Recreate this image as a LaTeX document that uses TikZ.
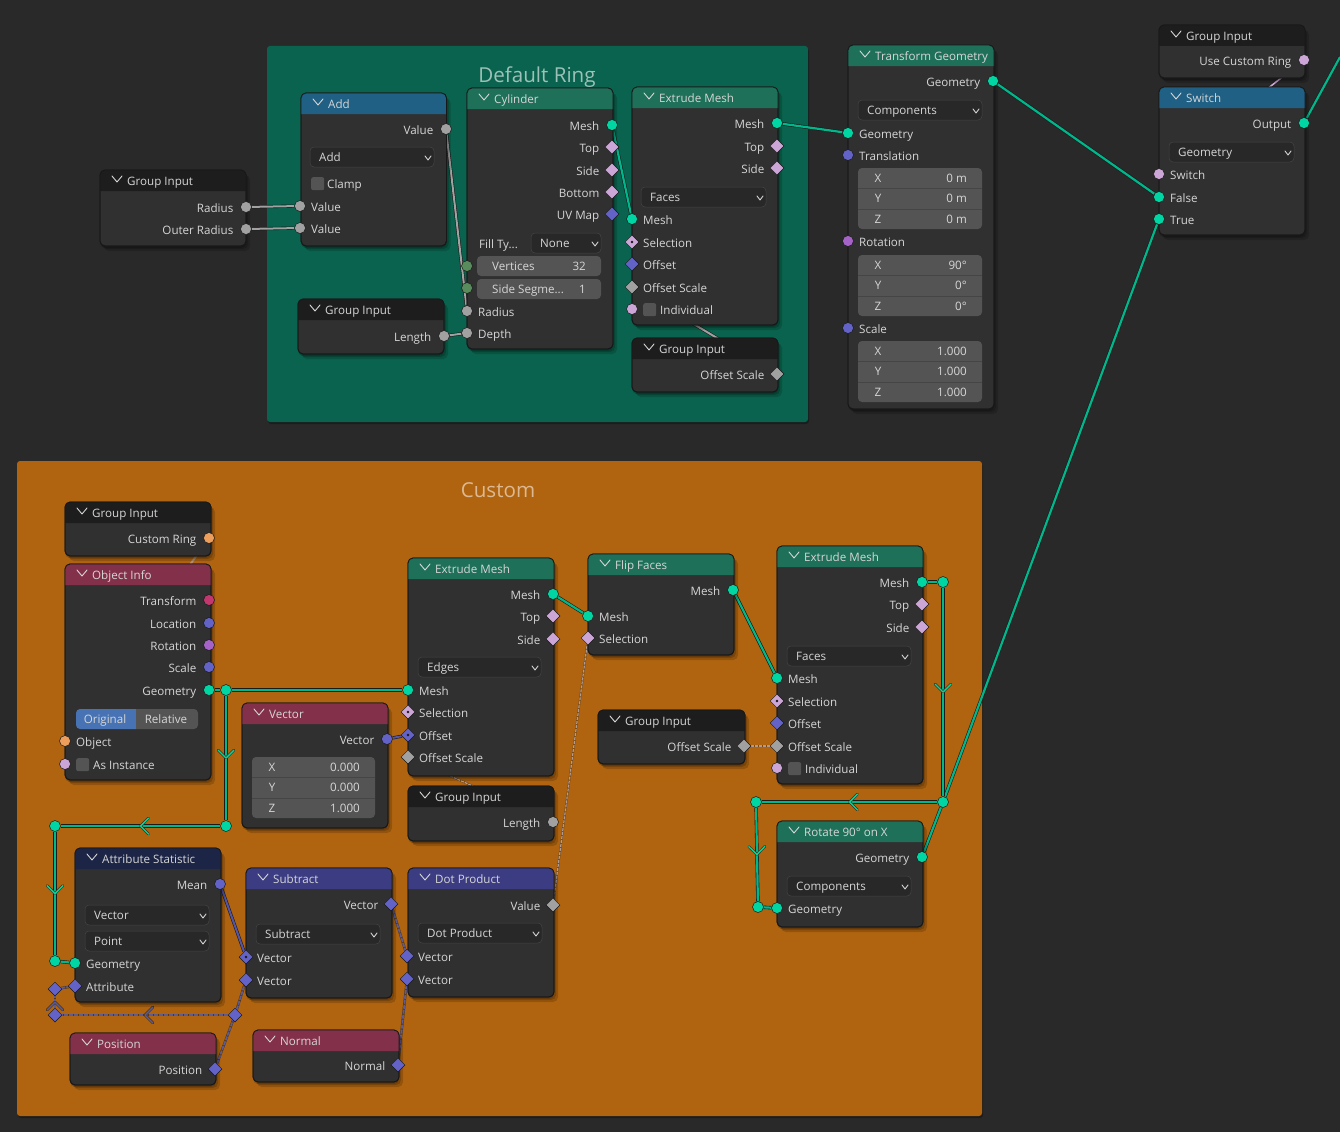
\documentclass[tikz,border=0pt]{standalone}
\usepackage{fontspec}
\setmainfont{Open Sans}
\usetikzlibrary{shapes.geometric,shadows,decorations.markings}
\pgfdeclarelayer{back}
\pgfdeclarelayer{links}
\pgfsetlayers{back,links,main}
\definecolor{bgcol}{HTML}{292929}
\definecolor{bodycol}{HTML}{303030}
\definecolor{edgecol}{HTML}{181818}
\definecolor{ringcol}{HTML}{0A634E}
\definecolor{customcol}{HTML}{B0640F}
\definecolor{headblack}{HTML}{1D1D1D}
\definecolor{headblue}{HTML}{1F6084}
\definecolor{headgreen}{HTML}{1E7059}
\definecolor{headred}{HTML}{83314A}
\definecolor{headpurple}{HTML}{3C3C83}
\definecolor{headnavy}{HTML}{1D2546}
\definecolor{geocol}{HTML}{00D6A3}
\definecolor{valcol}{HTML}{A1A1A1}
\definecolor{intcol}{HTML}{598C5C}
\definecolor{boolcol}{HTML}{CCA6D6}
\definecolor{veccol}{HTML}{6363C7}
\definecolor{rotcol}{HTML}{A663C7}
\definecolor{matcol}{HTML}{C2386E}
\definecolor{objcol}{HTML}{ED9E5C}
\definecolor{textcol}{HTML}{D6D6D6}
\definecolor{fieldcol}{HTML}{545454}
\definecolor{dropcol}{HTML}{282828}
\definecolor{togglecol}{HTML}{4772B3}
\definecolor{mutedvec}{HTML}{5C5C96}
\definecolor{mutedval}{HTML}{B09C94}
\tikzstyle{panel} = [anchor = north west, draw = edgecol, fill = bodycol, rounded corners = 5pt, line width = 0.8pt, inner sep = 0pt, outer sep = 0pt, drop shadow = {shadow xshift = 0pt, shadow yshift = -2pt, opacity = 0.16, fill = black}, drop shadow = {shadow xshift = 2pt, shadow yshift = -3pt, opacity = 0.16, fill = black}, drop shadow = {shadow xshift = 4pt, shadow yshift = -5pt, opacity = 0.16, fill = black}]
\tikzstyle{frame} = [anchor = north west, inner sep = 0pt, outer sep = 0pt, rounded corners = 3pt, drop shadow = {shadow xshift = 1pt, shadow yshift = -2pt, opacity = 0.3, fill = black}]
\tikzstyle{lbl} = [text = textcol, inner sep = 0pt, font = \fontsize{11.6}{13}\selectfont]
\tikzstyle{lblr} = [lbl, anchor = mid east]
\tikzstyle{lbll} = [lbl, anchor = mid west]
\tikzstyle{lblc} = [lbl, anchor = mid]
\tikzstyle{sockc} = [circle, fill = #1, draw = edgecol, line width = 0.5pt, inner sep = 0pt, minimum size = 11pt]
\tikzstyle{sockd} = [diamond, aspect = 1, fill = #1, draw = edgecol, line width = 0.5pt, inner sep = 0pt, minimum size = 14pt]
\tikzstyle{sockdot} = [sockd = #1, path picture = {\fill [edgecol] (path picture bounding box.center) circle (1.3pt);}]
\tikzstyle{dropbox} = [anchor = north west, fill = dropcol, draw = bodycol!90!white, line width = 0.5pt, rounded corners = 4pt, inner sep = 0pt, outer sep = 0pt, minimum height = 20pt]
\tikzstyle{fieldbox} = [anchor = north west, fill = fieldcol, rounded corners = 4pt, inner sep = 0pt, outer sep = 0pt]
\tikzstyle{chk} = [anchor = north west, fill = fieldcol, rounded corners = 2pt, inner sep = 0pt, minimum size = 13pt]
\tikzstyle{chevline} = [line width = 0.9pt, line cap = round, line join = round]
\tikzstyle{linkgeo} = [draw = edgecol!80!bgcol, line width = 0.6pt, double = geocol!85!black, double distance = 2.2pt]
\tikzstyle{linkval} = [draw = edgecol!80!bgcol, line width = 0.6pt, double = valcol, double distance = 2pt]
\tikzstyle{linkbool} = [draw = edgecol!80!bgcol, line width = 0.5pt, double = boolcol, double distance = 1.6pt]
\tikzstyle{linkvec} = [draw = edgecol!80!bgcol, line width = 0.6pt, double = veccol!85!black, double distance = 2pt]
\tikzstyle{linkvecm} = [preaction = {draw = edgecol!60!customcol, solid, line width = 2.6pt}, draw = mutedvec, line width = 1.8pt, dash pattern = on 4pt off 1pt]
\tikzstyle{linkvalm} = [preaction = {draw = edgecol!40!customcol, solid, line width = 2pt}, draw = mutedval, line width = 1.2pt, dash pattern = on 3pt off 1pt]
\tikzstyle{linkobj} = [draw = objcol!50!gray, line width = 2pt]
\tikzstyle{chevron} = [decoration = {markings, mark = at position 0.5 with {\draw [draw = edgecol!70!customcol, line width = 2.6pt, line cap = round, line join = round] (-8pt, 8pt) -- (0pt, 0pt) -- (-8pt, -8pt); \draw [draw = #1, line width = 1.4pt, line cap = round, line join = round] (-8pt, 8pt) -- (0pt, 0pt) -- (-8pt, -8pt);}}, decorate]
% node body, header and title
\newcommand{\blnode}[7]{
    \node (#1) at (#2, #3) [panel, minimum width = #4pt, minimum height = #5pt] {};
    \fill [#6] ([yshift = -21pt]#1.north west) [rounded corners = 5pt] -- (#1.north west) -- (#1.north east) [sharp corners] -- ([yshift = -21pt]#1.north east) -- cycle;
    \draw [edgecol, line width = 0.8pt, rounded corners = 5pt] (#1.north west) rectangle (#1.south east);
    \draw [textcol, chevline] (#2 + 12, #3 + 6) -- (#2 + 17, #3 + 12) -- (#2 + 22, #3 + 6);
    \node (#1-t) at (#2 + 27, #3 + 13) [lbll] {#7};
}
% sockets with their labels
\newcommand{\outsock}[5]{
    \node (#1) at (#2, #3) [#5] {};
    \node (#1-l) at (#2 - 12.5, #3 + 2.5) [lblr] {#4};
}
\newcommand{\insock}[5]{
    \node (#1) at (#2, #3) [#5] {};
    \node (#1-l) at (#2 + 11, #3 + 2.5) [lbll] {#4};
}
\newcommand{\chksock}[5]{
    \node (#1) at (#2, #3) [#5] {};
    \node (#1-c) at (#2 + 11, #3 - 6) [chk] {};
    \node (#1-l) at (#2 + 28, #3 + 2.5) [lbll] {#4};
}
\newcommand{\dropmenu}[5]{
    \node (#1) at (#2, #3) [dropbox, minimum width = #4pt] {};
    \node (#1-l) at (#2 + 9, #3 + 11.5) [lbll] {#5};
    \draw [textcol, chevline] (#2 + #4 - 9, #3 + 9) -- (#2 + #4 - 6, #3 + 13) -- (#2 + #4 - 3, #3 + 9);
}
\newcommand{\numfield}[6]{
    \node (#1) at (#2, #3) [fieldbox, minimum width = #4pt, minimum height = 20pt] {};
    \node (#1-l) at (#2 + 15, #3 + 12) [lbll] {#5};
    \node (#1-v) at (#2 + #4 - 15, #3 + 12) [lblr] {#6};
}
\newcommand{\xyzbox}[7]{
    \node (#1) at (#2, #3) [fieldbox, minimum width = #4pt, minimum height = 61pt] {};
    \draw [bodycol!90!white, line width = 0.8pt] (#2, #3 + 20) -- (#2 + #4, #3 + 20);
    \draw [bodycol!90!white, line width = 0.8pt] (#2, #3 + 41) -- (#2 + #4, #3 + 41);
    \node (#1-a) at (#2 + 20, #3 + 12) [lblc] {X};
    \node (#1-b) at (#2 + 20, #3 + 32) [lblc] {Y};
    \node (#1-c) at (#2 + 20, #3 + 53) [lblc] {Z};
    \node (#1-x) at (#2 + #4 - 15, #3 + 12) [lblr] {#5};
    \node (#1-y) at (#2 + #4 - 15, #3 + 32) [lblr] {#6};
    \node (#1-z) at (#2 + #4 - 15, #3 + 53) [lblr] {#7};
}
\newcommand{\chevlink}[4]{
    \draw [#1] (#3) -- (#4);
    \path [chevron = #2] (#3) -- (#4);
}
\begin{document}
\begin{tikzpicture}[x = 1pt, y = -1pt]
    \useasboundingbox (0, 0) rectangle (1340, 1132);
    \begin{pgfonlayer}{back}
        \node (bg) at (0, 0) [anchor = north west, fill = bgcol, minimum width = 1340pt, minimum height = 1132pt, inner sep = 0pt] {};
        \node (ringframe) at (267, 46) [frame, fill = ringcol, minimum width = 541pt, minimum height = 376pt] {};
        \node (customframe) at (17, 461) [frame, fill = customcol, minimum width = 965pt, minimum height = 655pt] {};
    \end{pgfonlayer}
    \node (ringtitle) at (537, 77) [text = white!60!ringcol, inner sep = 0pt, font = \fontsize{20.6}{24}\selectfont] {Default Ring};
    \node (customtitle) at (498, 490) [text = white!55!customcol, inner sep = 0pt, font = \fontsize{20.6}{24}\selectfont] {Custom};

    % default ring
    \blnode{gi1}{100}{170}{146}{76}{headblack}{Group Input}
    \outsock{gi1r}{246}{207}{Radius}{sockc = valcol}
    \outsock{gi1o}{246}{229}{Outer Radius}{sockc = valcol}

    \blnode{add}{301}{93}{145.5}{153}{headblue}{Add}
    \outsock{addout}{446}{129}{Value}{sockc = valcol}
    \dropmenu{adddrop}{310}{147}{124}{Add}
    \node (addchk) at (311, 177) [chk] {};
    \node (addchk-l) at (327, 185.5) [lbll] {Clamp};
    \insock{adda}{300}{206}{Value}{sockc = valcol}
    \insock{addb}{300}{228}{Value}{sockc = valcol}

    \blnode{cyl}{467}{88}{146}{261}{headgreen}{Cylinder}
    \outsock{cylmesh}{612}{125}{Mesh}{sockc = geocol}
    \outsock{cyltop}{612}{147}{Top}{sockd = boolcol}
    \outsock{cylside}{612}{170}{Side}{sockd = boolcol}
    \outsock{cylbot}{612}{192}{Bottom}{sockd = boolcol}
    \outsock{cyluv}{612}{214}{UV Map}{sockd = veccol}
    \node (cylfill) at (479, 245.5) [lbll] {Fill Ty...};
    \dropmenu{cyldrop}{531}{233}{70}{None}
    \numfield{cylvert}{477}{256}{124}{Vertices}{32}
    \numfield{cylseg}{477}{279}{124}{Side Segme...}{1}
    \node (cylvs) at (467, 266) [sockc = intcol] {};
    \node (cylss) at (467, 288) [sockc = intcol] {};
    \insock{cylrad}{467}{311}{Radius}{sockc = valcol}
    \insock{cyldep}{467}{333}{Depth}{sockc = valcol}

    \blnode{ex1}{632}{87}{146}{238}{headgreen}{Extrude Mesh}
    \outsock{ex1mesh}{777}{123}{Mesh}{sockc = geocol}
    \outsock{ex1top}{777}{146}{Top}{sockd = boolcol}
    \outsock{ex1side}{777}{168}{Side}{sockd = boolcol}
    \dropmenu{ex1drop}{641}{187}{125}{Faces}
    \insock{ex1in}{632}{219}{Mesh}{sockc = geocol}
    \insock{ex1sel}{632}{242}{Selection}{sockdot = boolcol}
    \insock{ex1off}{632}{264}{Offset}{sockd = veccol}
    \insock{ex1scl}{632}{287}{Offset Scale}{sockd = valcol}
    \chksock{ex1ind}{632}{309}{Individual}{sockc = boolcol}

    \blnode{gi2}{298}{299}{146}{55}{headblack}{Group Input}
    \outsock{gi2len}{444}{336}{Length}{sockc = valcol}
    \blnode{gi3}{632}{338}{146}{54}{headblack}{Group Input}
    \outsock{gi3scl}{777}{374}{Offset Scale}{sockd = valcol}

    % transform and switch
    \blnode{trf}{848}{45}{146}{364}{headgreen}{Transform Geometry}
    \outsock{trfout}{993}{81}{Geometry}{sockc = geocol}
    \dropmenu{trfdrop}{858}{100}{124}{Components}
    \insock{trfin}{848}{133}{Geometry}{sockc = geocol}
    \insock{trftra}{848}{155}{Translation}{sockc = veccol}
    \xyzbox{trfbt}{858}{168}{124}{0 m}{0 m}{0 m}
    \insock{trfrot}{848}{241}{Rotation}{sockc = rotcol}
    \xyzbox{trfbr}{858}{255}{124}{90°}{0°}{0°}
    \insock{trfscl}{848}{328}{Scale}{sockc = veccol}
    \xyzbox{trfbs}{858}{341}{124}{1.000}{1.000}{1.000}

    \blnode{gi4}{1159}{25}{146}{53}{headblack}{Group Input}
    \outsock{gi4use}{1304}{60}{Use Custom Ring}{sockc = boolcol}
    \blnode{sw}{1159}{87}{146}{148}{headblue}{Switch}
    \outsock{swout}{1304}{123}{Output}{sockc = geocol}
    \dropmenu{swdrop}{1169}{142}{125}{Geometry}
    \insock{swsw}{1159}{174}{Switch}{sockc = boolcol}
    \insock{swfalse}{1159}{197}{False}{sockc = geocol}
    \insock{swtrue}{1159}{219}{True}{sockc = geocol}
    \coordinate (outright) at (1340, 57);

    % custom ring
    \blnode{gi5}{65}{502}{146}{54}{headblack}{Group Input}
    \outsock{gi5cus}{209}{538}{Custom Ring}{sockc = objcol}
    \blnode{obj}{65}{564}{146}{216}{headred}{Object Info}
    \outsock{objtra}{209}{600}{Transform}{sockc = matcol}
    \outsock{objloc}{209}{623}{Location}{sockc = veccol}
    \outsock{objrot}{209}{645}{Rotation}{sockc = rotcol}
    \outsock{objscl}{209}{667}{Scale}{sockc = veccol}
    \outsock{objgeo}{209}{690}{Geometry}{sockc = geocol}
    \fill [togglecol] (136, 709) [rounded corners = 4pt] -- (76, 709) -- (76, 729) [sharp corners] -- (136, 729) -- cycle;
    \fill [fieldcol] (136, 709) [rounded corners = 4pt] -- (198, 709) -- (198, 729) [sharp corners] -- (136, 729) -- cycle;
    \node (objorig) at (105, 721) [lblc] {Original};
    \node (objrel) at (166, 721) [lblc] {Relative};
    \insock{objin}{65}{741}{Object}{sockc = objcol}
    \chksock{objins}{65}{764}{As Instance}{sockc = boolcol}

    \blnode{vec}{242}{703}{146}{125}{headred}{Vector}
    \outsock{vecout}{387}{739}{Vector}{sockc = veccol}
    \xyzbox{vecb}{252}{757}{123}{0.000}{0.000}{1.000}

    \blnode{ex2}{408}{558}{146}{218}{headgreen}{Extrude Mesh}
    \outsock{ex2mesh}{553}{594}{Mesh}{sockc = geocol}
    \outsock{ex2top}{553}{616}{Top}{sockd = boolcol}
    \outsock{ex2side}{553}{639}{Side}{sockd = boolcol}
    \dropmenu{ex2drop}{418}{657}{123}{Edges}
    \insock{ex2in}{408}{690}{Mesh}{sockc = geocol}
    \insock{ex2sel}{408}{712}{Selection}{sockdot = boolcol}
    \insock{ex2off}{408}{735}{Offset}{sockdot = veccol}
    \insock{ex2scl}{408}{757}{Offset Scale}{sockd = valcol}

    \blnode{gi6}{408}{786}{146}{55}{headblack}{Group Input}
    \outsock{gi6len}{553}{822}{Length}{sockc = valcol}

    \blnode{flip}{588}{554}{146}{101}{headgreen}{Flip Faces}
    \outsock{flipout}{733}{590}{Mesh}{sockc = geocol}
    \insock{flipin}{588}{616}{Mesh}{sockc = geocol}
    \insock{flipsel}{588}{638}{Selection}{sockd = boolcol}

    \blnode{gi7}{598}{710}{147}{54}{headblack}{Group Input}
    \outsock{gi7scl}{744}{746}{Offset Scale}{sockd = valcol}

    \blnode{ex3}{777}{546}{146}{238}{headgreen}{Extrude Mesh}
    \outsock{ex3mesh}{922}{582}{Mesh}{sockc = geocol}
    \outsock{ex3top}{922}{604}{Top}{sockd = boolcol}
    \outsock{ex3side}{922}{627}{Side}{sockd = boolcol}
    \dropmenu{ex3drop}{787}{646}{124}{Faces}
    \insock{ex3in}{777}{678}{Mesh}{sockc = geocol}
    \insock{ex3sel}{777}{701}{Selection}{sockdot = boolcol}
    \insock{ex3off}{777}{723}{Offset}{sockd = veccol}
    \insock{ex3scl}{777}{746}{Offset Scale}{sockd = valcol}
    \chksock{ex3ind}{777}{768}{Individual}{sockc = boolcol}

    \blnode{rot}{777}{821}{146}{106}{headgreen}{Rotate 90° on X}
    \outsock{rotout}{922}{857}{Geometry}{sockc = geocol}
    \dropmenu{rotdrop}{787}{876}{124}{Components}
    \insock{rotin}{777}{908}{Geometry}{sockc = geocol}

    \blnode{att}{75}{848}{146}{154}{headnavy}{Attribute Statistic}
    \outsock{attmean}{220}{884}{Mean}{sockc = veccol}
    \dropmenu{attdrop}{85}{905}{124}{Vector}
    \dropmenu{attdomain}{85}{931}{124}{Point}
    \insock{attgeo}{75}{963}{Geometry}{sockc = geocol}
    \insock{attin}{75}{986}{Attribute}{sockd = veccol}

    \blnode{sub}{246}{868}{146}{130}{headpurple}{Subtract}
    \outsock{subout}{391}{904}{Vector}{sockd = veccol}
    \dropmenu{subdrop}{256}{924}{124}{Subtract}
    \insock{suba}{246}{957}{Vector}{sockdot = veccol}
    \insock{subb}{246}{980}{Vector}{sockd = veccol}

    \blnode{dot}{408}{868}{146}{129}{headpurple}{Dot Product}
    \outsock{dotout}{553}{905}{Value}{sockd = valcol}
    \dropmenu{dotdrop}{418}{923}{124}{Dot Product}
    \insock{dota}{407}{956}{Vector}{sockd = veccol}
    \insock{dotb}{407}{979}{Vector}{sockd = veccol}

    \blnode{pos}{70}{1033}{146}{52}{headred}{Position}
    \outsock{posout}{215}{1069}{Position}{sockd = veccol}
    \blnode{nor}{253}{1030}{146}{52}{headred}{Normal}
    \outsock{norout}{398}{1065}{Normal}{sockd = veccol}

    % reroutes
    \node (ra) at (226, 690) [sockc = geocol] {};
    \node (rb) at (226, 826) [sockc = geocol] {};
    \node (rc) at (55, 826) [sockc = geocol] {};
    \node (rd) at (55, 961) [sockc = geocol] {};
    \node (re) at (943, 582) [sockc = geocol] {};
    \node (rf) at (943, 802) [sockc = geocol] {};
    \node (rg) at (756, 802) [sockc = geocol] {};
    \node (rh) at (758, 907) [sockc = geocol] {};
    \node (ri) at (55, 989) [sockd = veccol] {};
    \node (rj) at (55, 1015) [sockd = veccol] {};
    \node (rk) at (235, 1015) [sockd = veccol] {};

    \begin{pgfonlayer}{links}
        \draw [linkval] (gi1r) -- (adda);
        \draw [linkval] (gi1o) -- (addb);
        \draw [linkval] (addout) -- (cylrad);
        \draw [linkval] (gi2len) -- (cyldep);
        \draw [linkval] (gi3scl) -- (ex1scl);
        \draw [linkgeo] (cylmesh) -- (ex1in);
        \draw [linkgeo] (ex1mesh) -- (trfin);
        \draw [linkgeo] (trfout) -- (swfalse);
        \draw [linkgeo] (swout) -- (outright);
        \draw [linkbool] (gi4use) -- (swsw);
        \draw [linkgeo] (swtrue) -- (rf);
        \draw [linkgeo] (rotout) -- (rf);
        \draw [linkgeo] (objgeo) -- (ra);
        \draw [linkgeo] (ra) -- (ex2in);
        \chevlink{linkgeo}{geocol}{ra}{rb}
        \chevlink{linkgeo}{geocol}{rb}{rc}
        \chevlink{linkgeo}{geocol}{rc}{rd}
        \draw [linkgeo] (rd) -- (attgeo);
        \draw [linkgeo] (ex2mesh) -- (flipin);
        \draw [linkgeo] (flipout) -- (ex3in);
        \draw [linkgeo] (ex3mesh) -- (re);
        \chevlink{linkgeo}{geocol}{re}{rf}
        \chevlink{linkgeo}{geocol}{rf}{rg}
        \chevlink{linkgeo}{geocol}{rg}{rh}
        \draw [linkgeo] (rh) -- (rotin);
        \draw [linkvalm] (gi7scl) -- (ex3scl);
        \draw [linkvalm] (gi6len) -- (ex2scl);
        \draw [linkobj] (gi5cus) -- (objin);
        \draw [linkvec] (vecout) -- (ex2off);
        \draw [linkvec] (attmean) -- (suba);
        \draw [linkvecm] (subout) -- (dota);
        \draw [linkvecm] (norout) -- (dotb);
        \draw [linkvecm] (posout) -- (rk);
        \draw [linkvecm] (rk) -- (subb);
        \chevlink{linkvecm}{mutedvec}{rk}{rj}
        \chevlink{linkvecm}{mutedvec}{rj}{ri}
        \draw [linkvecm] (ri) -- (attin);
        \draw [linkvalm] (dotout) -- (flipsel);
    \end{pgfonlayer}
\end{tikzpicture}
\end{document}
